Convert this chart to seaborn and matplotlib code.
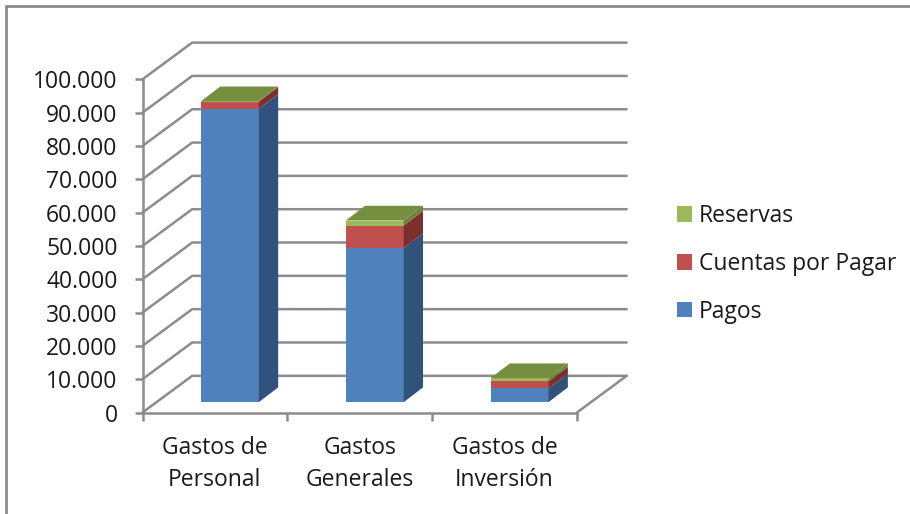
import matplotlib
matplotlib.use("Agg")
import matplotlib.pyplot as plt
import numpy as np
import seaborn as sns
from matplotlib.lines import Line2D
from matplotlib.patches import Polygon

categories = ["Gastos de\nPersonal", "Gastos\nGenerales", "Gastos de\nInversión"]
pagos = [88000, 46200, 4100]
cuentas = [2200, 6800, 2100]
reservas = [100, 1500, 1000]
y_ticks = [0, 10000, 20000, 30000, 40000, 50000, 60000, 70000, 80000, 90000, 100000]
y_labels = ["0", "10.000", "20.000", "30.000", "40.000", "50.000", "60.000", "70.000", "80.000", "90.000", "100.000"]

W, H = 910, 514
LINE = "#8c8c8c"
FONT_SIZE = 16.5

sns.set_style("white")
plt.rcParams["font.family"] = ["Open Sans", "DejaVu Sans"]
plt.rcParams["text.color"] = "#1a1a1a"
plt.rcParams["xtick.color"] = "#1a1a1a"
plt.rcParams["ytick.color"] = "#1a1a1a"

fig = plt.figure(figsize=(W / 100, H / 100), dpi=100, facecolor="white")
# axes = front plane of the fake 3d box, everything else is drawn off it
ax = fig.add_axes([142.5 / W, 1 - 412.5 / H, 434.5 / W, 333.2 / H])

px_x = 3 / 434.5      # one pixel in category units
px_y = 100000 / 333.2  # one pixel in value units

# back wall offset
wall_dx, wall_dy = 49.7 * px_x, 36.7 * px_y
# where the bars stand on the floor, and how deep they are
shift_dx, shift_dy = 15 * px_x, 10.4 * px_y
bar_dx, bar_dy = 19.3 * px_x, 14.7 * px_y

# gridlines on the walls
for v in y_ticks:
    ax.plot([-0.5, -0.5 + wall_dx, 2.5 + wall_dx], [v, v + wall_dy, v + wall_dy],
            color=LINE, lw=1.8, clip_on=False, zorder=1, solid_joinstyle="miter")
ax.plot([2.5, 2.5 + wall_dx], [0, wall_dy], color=LINE, lw=1.8, clip_on=False, zorder=1)

# stacked bars
series = [("Pagos", pagos, "#4f81bd", "#31527a", "#31527a"),
          ("Cuentas por Pagar", cuentas, "#c0504d", "#7b302e", "#7b302e"),
          ("Reservas", reservas, "#9bbb59", "#6d8438", "#768e3f")]
bottom = np.zeros(3)
for name, values, front, side, top in series:
    values = np.array(values)
    n_before = len(ax.patches)
    sns.barplot(x=categories, y=values, bottom=bottom, color=front, saturation=1, width=0.4,
                errorbar=None, label=name, ax=ax, zorder=3, linewidth=0)
    for bar in ax.patches[n_before:]:
        bar.set_x(bar.get_x() + shift_dx)
        bar.set_y(bar.get_y() + shift_dy)
        bar.set_clip_on(False)
        x1 = bar.get_x() + bar.get_width()
        y0, y1 = bar.get_y(), bar.get_y() + bar.get_height()
        ax.add_patch(Polygon([(x1, y0), (x1 + bar_dx, y0 + bar_dy), (x1 + bar_dx, y1 + bar_dy), (x1, y1)],
                             facecolor=side, edgecolor="none", clip_on=False, zorder=3))
        if name == "Reservas":
            x0 = bar.get_x()
            ax.add_patch(Polygon([(x0, y1), (x1, y1), (x1 + bar_dx, y1 + bar_dy), (x0 + bar_dx, y1 + bar_dy)],
                                 facecolor=top, edgecolor="none", clip_on=False, zorder=3))
    bottom = bottom + values

ax.set_xlim(-0.5, 2.5)
ax.set_ylim(0, 100000)
sns.despine(ax=ax, top=True, right=True)
for s in ["left", "bottom"]:
    ax.spines[s].set_color(LINE)
    ax.spines[s].set_linewidth(1.8)

ax.set_yticks(y_ticks, y_labels)
ax.tick_params(axis="y", left=True, length=6, width=1.8, color=LINE, pad=12, labelsize=FONT_SIZE)
ax.set_xticks([0, 1, 2], categories)
ax.set_xticks([-0.5, 0.5, 1.5, 2.5], minor=True)
ax.tick_params(axis="x", which="major", length=0, pad=17, labelsize=FONT_SIZE)
ax.tick_params(axis="x", which="minor", bottom=True, length=5.5, width=1.8, color=LINE)
for lab in ax.get_xticklabels():
    lab.set_linespacing(1.45)

handles, labels = ax.get_legend_handles_labels()
ax.legend(handles[::-1], labels[::-1], loc="center left", bbox_to_anchor=(677 / W, 1 - 264 / H),
          bbox_transform=fig.transFigure, frameon=False, fontsize=FONT_SIZE, labelspacing=1.04,
          handlelength=0.65, handleheight=0.65, handletextpad=0.3, borderpad=0, borderaxespad=0)

# chart area border, cropped on the bottom and right in the screenshot
fig.add_artist(Line2D([6 / W, 6 / W, 1], [0, 1 - 5.5 / H, 1 - 5.5 / H], color="#868686", lw=1.9,
                      transform=fig.transFigure, solid_joinstyle="miter"))

fig.savefig("out.png", dpi=100)
